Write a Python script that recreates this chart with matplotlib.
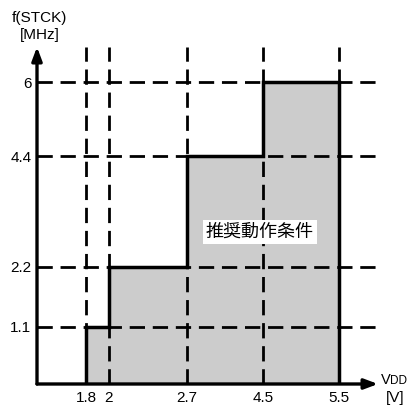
import numpy as np
import matplotlib.pyplot as plt

plt.rcParams['font.family'] = ['Liberation Sans', 'Noto Sans CJK JP', 'DejaVu Sans']

# operating range: supply voltage steps and max clock
volts = [1.8, 2, 2.7, 4.5, 5.5]
freqs = [1.1, 2.2, 4.4, 6]
xtick_labels = ['1.8', '2', '2.7', '4.5', '5.5']
ytick_labels = ['1.1', '2.2', '4.4', '6']
region_label = '推奨動作条件'

# the original chart is not drawn to scale -> piecewise axis scale
x_knots = [0, 1.8, 2, 2.7, 4.5, 5.5, 6.0]
x_pix = [0, 49, 72, 150, 226, 302, 341]
y_knots = [0, 1.1, 2.2, 4.4, 6, 7]
y_pix = [0, 57, 117, 228, 302, 337]

fig = plt.figure(figsize=(4.12, 4.09), dpi=100)
ax = fig.add_axes([37/412, 25/409, 341/412, 337/409])
ax.set_xscale('function', functions=(lambda v: np.interp(v, x_knots, x_pix),
                                     lambda p: np.interp(p, x_pix, x_knots)))
ax.set_yscale('function', functions=(lambda v: np.interp(v, y_knots, y_pix),
                                     lambda p: np.interp(p, y_pix, y_knots)))
ax.set_xlim(0, 6.0)
ax.set_ylim(0, 7)

# shaded region
ax.fill_between(volts, freqs + [freqs[-1]], step='post', color='#cccccc', lw=0, zorder=1)

# dashed guide lines
dash = (0, (5.5, 2.8))
for v in volts:
    ax.axvline(v, color='k', lw=2.0, ls=dash, zorder=2)
for f in freqs:
    ax.axhline(f, color='k', lw=2.0, ls=dash, zorder=2)

# outline of the region
xs = np.repeat(volts, 2)
ys = np.concatenate([[0], np.repeat(freqs, 2), [0]])
ax.plot(xs, ys, color='k', lw=2.5, zorder=4, solid_joinstyle='miter')

ax.text(4.43, 2.89, region_label, ha='center', va='center', fontsize=13,
        family=['Noto Sans CJK JP'], zorder=5,
        bbox=dict(fc='white', ec='none', pad=2))

# axes with arrows
for spine in ax.spines.values():
    spine.set_visible(False)
arrow = dict(arrowstyle='-|>,head_length=0.8,head_width=0.3', color='k', lw=2.4,
             shrinkA=0, shrinkB=0)
ax.annotate('', xy=(1.0, 0), xytext=(0, 0), xycoords='axes fraction',
            arrowprops=arrow, annotation_clip=False, zorder=6)
ax.annotate('', xy=(0, 1.0), xytext=(0, 0), xycoords='axes fraction',
            arrowprops=arrow, annotation_clip=False, zorder=6)

ax.set_xticks(volts)
ax.set_xticklabels(xtick_labels)
ax.set_yticks(freqs)
ax.set_yticklabels(ytick_labels)
ax.tick_params(axis='x', length=0, labelsize=11, pad=5)
ax.tick_params(axis='y', length=0, labelsize=11, pad=4)

fig.text(39/412, 1 - 18/409, 'f(STCK)', ha='center', va='center', fontsize=11)
fig.text(40/412, 1 - 35/409, '[MHz]', ha='center', va='center', fontsize=11)
fig.text(381/412, 1 - 384/409, 'V', ha='left', va='baseline', fontsize=10.5)
fig.text(390/412, 1 - 384/409, 'DD', ha='left', va='baseline', fontsize=8.5)
fig.text(395/412, 1 - 398/409, '[V]', ha='center', va='center', fontsize=11)

fig.savefig('out.png', dpi=100)
